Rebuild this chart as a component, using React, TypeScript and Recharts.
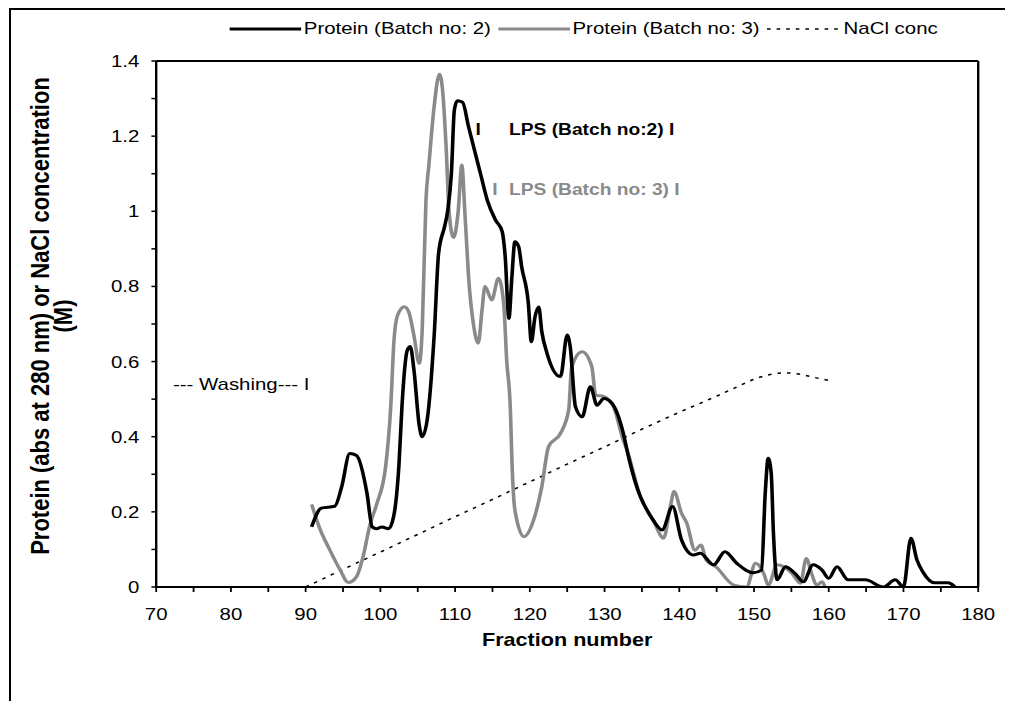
import React from 'react';
import { LineChart, Line, XAxis, YAxis, ReferenceLine } from 'recharts';

// ---------- data ----------
const batch2Fraction = [
  90.8, 92.1, 93.9, 94.8, 95.9, 96.8, 98.2, 98.9, 99.5, 100.2, 101.1, 101.8, 102.5, 102.9, 103.6, 104.0,
  104.5, 105.2, 105.6, 106.3, 106.5, 107.2, 107.8, 108.6, 109.0, 109.5, 109.9, 110.3, 111.0, 111.8, 112.7,
  113.4, 114.3, 115.4, 116.3, 116.7, 117.2, 117.6, 118.0, 118.5, 118.9, 119.8, 120.2, 120.7, 121.2, 121.6,
  122.3, 124.1, 125.0, 125.4, 126.1, 127.0, 128.1, 129.0, 129.9, 131.0, 132.5, 133.2, 134.8, 135.2, 136.5,
  137.7, 139.1, 140.3, 141.9, 142.8, 144.6, 146.1, 147.7, 149.9, 151.0, 151.5, 151.9, 152.3, 152.6, 153.1,
  154.2, 155.5, 156.6, 157.9, 159.1, 160.0, 161.1, 162.6, 164.9, 167.3, 168.9, 170.0, 171.0, 171.8, 172.6,
  174.2, 176.0, 176.9,
];
const batch2Protein = [
  0.16, 0.21, 0.215, 0.265, 0.355, 0.35, 0.25, 0.16, 0.155, 0.16, 0.155, 0.19, 0.33, 0.485, 0.63, 0.64,
  0.576, 0.43, 0.4, 0.45, 0.485, 0.67, 0.89, 0.96, 1.0, 1.1, 1.27, 1.294, 1.29, 1.225, 1.154,
  1.1, 1.03, 0.977, 0.946, 0.88, 0.715, 0.826, 0.919, 0.906, 0.853, 0.755, 0.653, 0.72, 0.745, 0.68,
  0.622, 0.56, 0.671, 0.64, 0.48, 0.453, 0.533, 0.484, 0.502, 0.489, 0.41, 0.347, 0.24, 0.223, 0.178,
  0.152, 0.214, 0.125, 0.085, 0.09, 0.059, 0.094, 0.063, 0.038, 0.045, 0.249, 0.343, 0.303, 0.143, 0.019,
  0.054, 0.036, 0.014, 0.059, 0.045, 0.023, 0.054, 0.019, 0.019, 0.0, 0.019, 0.0, 0.13, 0.072, 0.04,
  0.011, 0.011, 0.0,
];
const batch3Fraction = [
  90.8, 91.9, 93.2, 94.6, 95.7, 96.8, 97.7, 98.6, 99.5, 100.7, 101.4, 101.8, 102.3, 103.2, 103.8, 104.5,
  105.2, 105.6, 106.1, 106.5, 107.2, 107.9, 108.3, 108.8, 109.2, 109.8, 110.4, 110.9, 111.3, 111.8, 112.5,
  113.1, 113.6, 114.0, 114.9, 115.8, 116.5, 116.9, 117.4, 117.6, 118.0, 119.2, 120.5, 121.6, 122.5, 124.1,
  125.2, 125.6, 127.0, 128.3, 128.8, 129.9, 131.2, 132.5, 133.0, 134.8, 136.5, 137.9, 138.8, 139.3, 140.3,
  141.0, 142.1, 142.9, 143.6, 144.9, 147.3, 149.0, 150.2, 151.3, 151.9, 153.1, 155.1, 156.2, 157.0, 157.7,
  158.4, 159.1, 159.5,
];
const batch3Protein = [
  0.22, 0.155, 0.1, 0.046, 0.012, 0.027, 0.082, 0.165, 0.22, 0.32, 0.485, 0.65, 0.723, 0.746, 0.732, 0.668,
  0.595, 0.686, 1.03, 1.125, 1.28, 1.365, 1.327, 1.17, 0.997, 0.93, 0.997, 1.123, 1.0, 0.826, 0.693,
  0.649, 0.737, 0.8, 0.764, 0.822, 0.755, 0.604, 0.471, 0.338, 0.205, 0.134, 0.178, 0.267, 0.373, 0.409,
  0.471, 0.586, 0.626, 0.586, 0.511, 0.507, 0.48, 0.391, 0.365, 0.24, 0.178, 0.13, 0.214, 0.254, 0.196,
  0.17, 0.098, 0.112, 0.072, 0.054, 0.005, 0.0, 0.063, 0.036, 0.005, 0.059, 0.036, 0.01, 0.076, 0.036,
  0.005, 0.014, 0.0,
];
const naclFraction = [90, 95, 100, 105, 110, 115, 120, 125, 130, 135, 140, 145, 148, 150, 152, 154, 156, 158, 160];
const naclConc = [0, 0.047, 0.093, 0.14, 0.187, 0.233, 0.28, 0.327, 0.373, 0.42, 0.465, 0.508, 0.535, 0.553, 0.565, 0.57, 0.567, 0.558, 0.55];

const xTicks = [70, 75, 80, 85, 90, 95, 100, 105, 110, 115, 120, 125, 130, 135, 140, 145, 150, 155, 160, 165, 170, 175, 180];
const xTickLabels = ['70', '', '80', '', '90', '', '100', '', '110', '', '120', '', '130', '', '140', '', '150', '', '160', '', '170', '', '180'];
const yTicks = [0, 0.1, 0.2, 0.3, 0.4, 0.5, 0.6, 0.7, 0.8, 0.9, 1.0, 1.1, 1.2, 1.3, 1.4];
const yTickLabels = ['0', '', '0.2', '', '0.4', '', '0.6', '', '0.8', '', '1', '', '1.2', '', '1.4'];

const seriesNames = ['Protein (Batch no: 2)', 'Protein (Batch no: 3)', 'NaCl conc'];
const xTitle = 'Fraction number';
const yTitle = ['Protein (abs at 280 nm) or NaCl concentration', '(M)'];
const lps2Text = ['I', 'LPS (Batch no:2) I'];
const lps3Text = ['I', 'LPS (Batch no: 3) I'];
const washingText = '--- Washing--- I';

const toPoints = (xs: number[], ys: number[]) => xs.map((x, i) => ({ x, y: ys[i] }));
const batch2Data = toPoints(batch2Fraction, batch2Protein);
const batch3Data = toPoints(batch3Fraction, batch3Protein);
const naclData = toPoints(naclFraction, naclConc);

// ---------- styles ----------
const FONT = '"Liberation Sans", Arial, sans-serif';
const GRAY = '#8a8a8a';
const SX = 1.2; // horizontal stretch of the original rendering
const CW = 832;
const CH = 690;

const YTitle = (props: any) => {
  const vb = props.viewBox || { x: 0, y: 51, width: 121, height: 526 };
  const cy = vb.y + vb.height / 2 - 8;
  return (
    <g>
      <text x={24} y={cy} transform={`rotate(-90, 24, ${cy})`} textAnchor="middle" dominantBaseline="central"
        style={{ fontFamily: FONT, fontSize: 22, fontWeight: 'bold', fill: '#000' }}>{yTitle[0]}</text>
      <text x={43} y={cy} transform={`rotate(-90, 43, ${cy})`} textAnchor="middle" dominantBaseline="central"
        style={{ fontFamily: FONT, fontSize: 22, fontWeight: 'bold', fill: '#000' }}>{yTitle[1]}</text>
    </g>
  );
};

const XTitle = (props: any) => {
  const vb = props.viewBox || { x: 121, y: 577, width: 685, height: 113 };
  const cx = vb.x + vb.width / 2;
  return (
    <text x={cx} y={630} textAnchor="middle" dominantBaseline="central"
      style={{ fontFamily: FONT, fontSize: 18, fontWeight: 'bold', fill: '#000' }}>{xTitle}</text>
  );
};

const LegendSample = ({ color, width, dash }: { color: string; width: number; dash?: string }) => (
  <svg width={60} height={10} style={{ display: 'block' }}>
    <line x1={0} y1={5} x2={60} y2={5} stroke={color} strokeWidth={width} strokeDasharray={dash} />
  </svg>
);

export default function App() {
  return (
    <div style={{ position: 'relative', width: 998, height: 700, borderTop: '2px solid #000', borderLeft: '2px solid #000', borderRight: '2px solid #000', marginLeft: 1, background: '#fff', overflow: 'hidden' }}>
      <div style={{ position: 'absolute', left: 0, top: 0, width: CW, height: CH, transform: `scaleX(${SX})`, transformOrigin: '0 0' }}>
        <LineChart width={CW} height={CH} margin={{ top: 51, right: 26, left: 0, bottom: 0 }}>
          <XAxis
            dataKey="x"
            type="number"
            domain={[70, 180]}
            ticks={xTicks}
            interval={0}
            allowDataOverflow
            height={113}
            tickSize={5}
            tickMargin={16}
            axisLine={{ stroke: '#000', strokeWidth: 2 }}
            tickLine={{ stroke: '#000', strokeWidth: 1.5 }}
            tick={{ fill: '#000', fontSize: 17, fontFamily: FONT }}
            tickFormatter={(v: number) => xTickLabels[xTicks.indexOf(v)] ?? ''}
            label={(p: any) => <XTitle {...p} />}
          />
          <YAxis
            type="number"
            domain={[0, 1.4]}
            ticks={yTicks}
            interval={0}
            allowDataOverflow
            width={121}
            tickSize={4}
            tickMargin={10}
            axisLine={{ stroke: '#000', strokeWidth: 2 }}
            tickLine={{ stroke: '#000', strokeWidth: 1.5 }}
            tick={{ fill: '#000', fontSize: 17, fontFamily: FONT }}
            tickFormatter={(v: number) => yTickLabels[yTicks.findIndex((t) => Math.abs(t - v) < 1e-6)] ?? ''}
            label={(p: any) => <YTitle {...p} />}
          />
          <ReferenceLine y={1.4} stroke="#000" strokeWidth={2} ifOverflow="extendDomain" />
          <ReferenceLine x={180} stroke="#000" strokeWidth={2} ifOverflow="extendDomain" />
          <Line data={naclData} dataKey="y" name={seriesNames[2]} type="monotone" dot={false} stroke="#000"
            strokeWidth={1.5} strokeDasharray="3 5" isAnimationActive={false} />
          <Line data={batch3Data} dataKey="y" name={seriesNames[1]} type="monotone" dot={false} stroke={GRAY}
            strokeWidth={3} strokeLinejoin="round" isAnimationActive={false} />
          <Line data={batch2Data} dataKey="y" name={seriesNames[0]} type="monotone" dot={false} stroke="#000"
            strokeWidth={3} strokeLinejoin="round" isAnimationActive={false} />
        </LineChart>

        {/* legend */}
        <div style={{ position: 'absolute', left: 182, top: 9, display: 'flex', alignItems: 'center', fontFamily: FONT, fontSize: 17, lineHeight: '19px', whiteSpace: 'nowrap', color: '#000' }}>
          <LegendSample color="#000" width={3} />
          <span style={{ marginLeft: 2, marginRight: 6 }}>{seriesNames[0]}</span>
          <LegendSample color={GRAY} width={3} />
          <span style={{ marginLeft: 2, marginRight: 6 }}>{seriesNames[1]}</span>
          <LegendSample color="#000" width={1.5} dash="3 5" />
          <span style={{ marginLeft: 4 }}>{seriesNames[2]}</span>
        </div>

        {/* annotations */}
        <div style={{ position: 'absolute', left: 387, top: 112, fontFamily: FONT, fontSize: 16, lineHeight: '16px', fontWeight: 'bold', color: '#000', whiteSpace: 'pre' }}>{lps2Text[0]}</div>
        <div style={{ position: 'absolute', left: 415, top: 112, fontFamily: FONT, fontSize: 16, lineHeight: '16px', fontWeight: 'bold', color: '#000', whiteSpace: 'pre' }}>{lps2Text[1]}</div>
        <div style={{ position: 'absolute', left: 401, top: 172, fontFamily: FONT, fontSize: 16, lineHeight: '16px', fontWeight: 'bold', color: GRAY, whiteSpace: 'pre' }}>{lps3Text[0]}</div>
        <div style={{ position: 'absolute', left: 415, top: 172, fontFamily: FONT, fontSize: 16, lineHeight: '16px', fontWeight: 'bold', color: GRAY, whiteSpace: 'pre' }}>{lps3Text[1]}</div>
        <div style={{ position: 'absolute', left: 135, top: 366, fontFamily: FONT, fontSize: 17, lineHeight: '17px', color: '#000', whiteSpace: 'pre' }}>{washingText}</div>
      </div>
    </div>
  );
}
